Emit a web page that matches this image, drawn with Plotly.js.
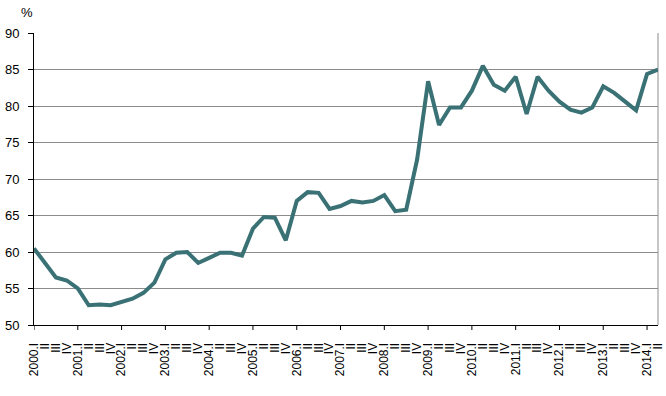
<!DOCTYPE html>
<html>
<head>
<meta charset="utf-8">
<script src="https://cdn.plot.ly/plotly-3.0.1.min.js"></script>
<style>html,body{margin:0;padding:0;background:#fff;}#chart{width:666px;height:396px;}</style>
</head>
<body>
<div id="chart"></div>
<script>
var years = [2000,2001,2002,2003,2004,2005,2006,2007,2008,2009,2010,2011,2012,2013,2014];
var quarters = ["I","II","III","IV"];
var lastYearQuarters = 2;
var values = [
  60.5, 58.5, 56.5, 56.1, 55.0, 52.7, 52.8, 52.7,
  53.2, 53.6, 54.4, 55.8, 59.0, 59.9, 60.0, 58.5,
  59.2, 59.9, 59.9, 59.5, 63.2, 64.8, 64.7, 61.6,
  67.0, 68.2, 68.1, 65.9, 66.3, 67.0, 66.8, 67.0,
  67.8, 65.6, 65.8, 72.7, 83.4, 77.4, 79.8, 79.8,
  82.1, 85.5, 82.9, 82.1, 84.0, 78.9, 84.0, 82.1,
  80.6, 79.5, 79.1, 79.8, 82.7, 81.8, 80.6, 79.4,
  84.4, 85.0
];
var yTicks = [50,55,60,65,70,75,80,85,90];

var categories = [];
var yearStartIdx = [];
years.forEach(function(y, yi){
  var nq = (yi === years.length-1) ? lastYearQuarters : 4;
  for (var q=0; q<nq; q++){
    if (q===0){ yearStartIdx.push(categories.length); categories.push(y + "." + quarters[q]); }
    else categories.push(quarters[q]);
  }
});
var n = categories.length;
var catIdx = categories.map(function(_, i){ return i; });

var fontFam = "'Liberation Sans', Arial, sans-serif";
var plotH = 396 - 33 - 71;

var trace = {
  x: catIdx, y: values, type: 'scatter', mode: 'lines',
  line: {color: 'rgb(57,113,117)', width: 4},
  hoverinfo: 'skip'
};

var shapes = [{
  type: 'line', xref: 'paper', yref: 'paper', x0: 1, x1: 1, y0: 0, y1: 1,
  line: {color: '#8c8c8c', width: 1}, layer: 'below'
}];
yearStartIdx.forEach(function(i){
  shapes.push({
    type: 'line', xref: 'x', yref: 'paper', x0: i, x1: i, y0: 0, y1: -5/plotH,
    line: {color: '#000', width: 1}
  });
});

var layout = {
  width: 666, height: 396,
  margin: {l: 34, r: 8, t: 33, b: 71},
  paper_bgcolor: '#fff', plot_bgcolor: '#fff',
  showlegend: false,
  xaxis: {
    type: 'linear', range: [0, n-1],
    tickmode: 'array', tickvals: catIdx, ticktext: categories,
    tickangle: -90, ticks: '',
    ticklabelstandoff: 12,
    tickfont: {family: fontFam, size: 12, color: '#000'},
    showgrid: false, zeroline: false,
    showline: true, linecolor: '#000', linewidth: 1
  },
  yaxis: {
    range: [50, 90], tickmode: 'array', tickvals: yTicks,
    ticks: 'outside', ticklen: 5, tickcolor: '#000',
    ticklabelstandoff: 6,
    tickfont: {family: fontFam, size: 13, color: '#000'},
    showgrid: true, gridcolor: '#8c8c8c', gridwidth: 1,
    zeroline: false, showline: true, linecolor: '#000', linewidth: 1
  },
  shapes: shapes,
  annotations: [{
    text: '%', xref: 'paper', yref: 'paper', x: -7/624, y: 1 + 21/plotH,
    xanchor: 'center', yanchor: 'middle', showarrow: false,
    font: {family: fontFam, size: 13, color: '#000'}
  }]
};

Plotly.newPlot('chart', [trace], layout, {displayModeBar: false, staticPlot: true});
</script>
</body>
</html>
